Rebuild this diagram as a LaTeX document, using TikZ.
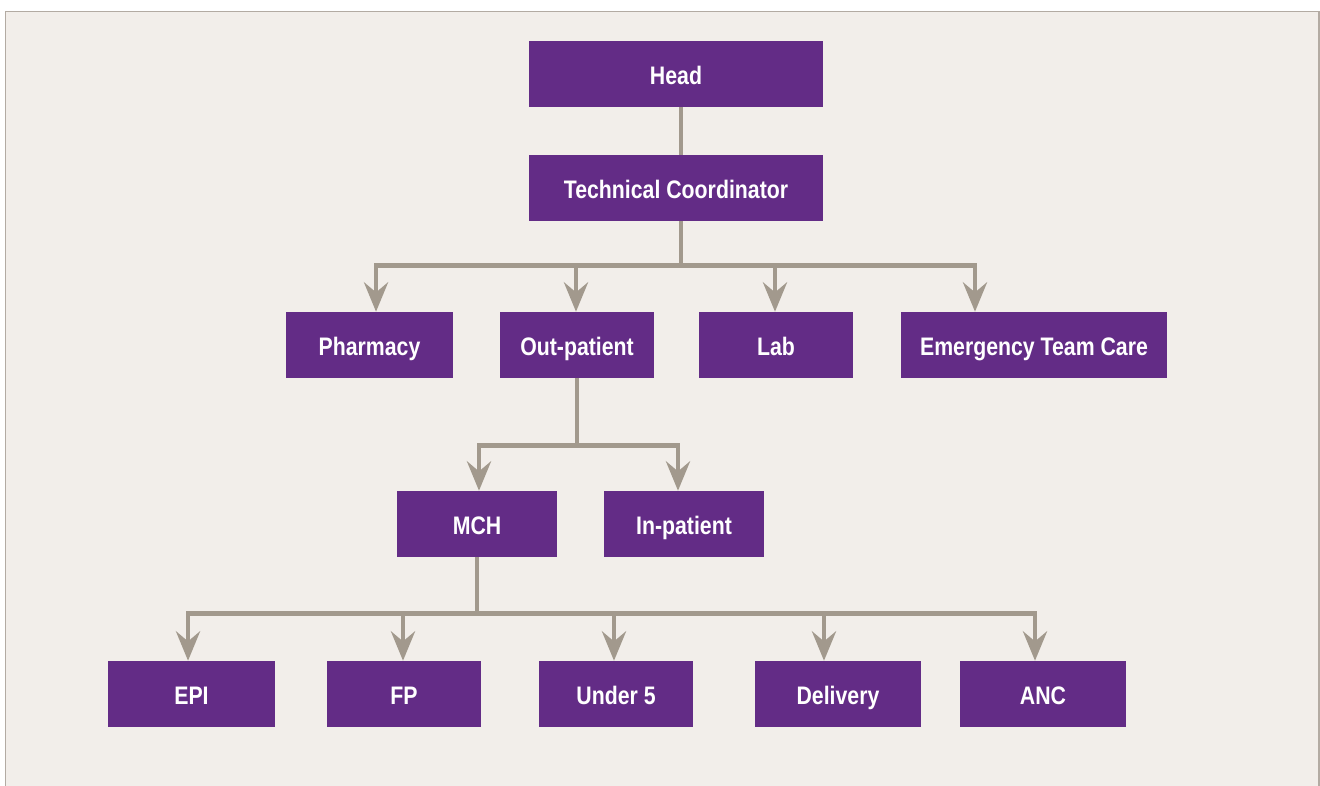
\documentclass[tikz,border=0pt]{standalone}
\usepackage{xcolor}
\usepackage{fontspec}
\setmainfont{Liberation Sans}[FakeStretch=0.84]
\usepackage{tikz}
\usetikzlibrary{arrows.meta,positioning,calc}

\definecolor{boxpurple}{HTML}{632C86}
\definecolor{linkgray}{HTML}{A2998D}
\definecolor{panel}{HTML}{F2EEEA}
\definecolor{panelline}{HTML}{B3ABA3}

\begin{document}
\begin{tikzpicture}[x=0.75pt, y=-0.75pt,
    unit/.style={rectangle, fill=boxpurple, text=white, inner sep=0pt,
        minimum height=49.5pt, text height=15pt, text depth=0pt,
        font=\fontsize{19}{22}\selectfont\bfseries},
    link/.style={draw=linkgray, line width=3.6pt},
    arr/.style={link, -{Stealth[length=22pt, width=18pt, inset=7.5pt]}}]
    \useasboundingbox (0,0) rectangle (1320,785);
    \draw[panelline, fill=panel, line width=1.2pt] (5.5,11.5) rectangle (1319,800);

    % top of the chart
    \node (head) [unit, minimum width=220.5pt] at (676,74) {Head};
    \node (tech) [unit, minimum width=220.5pt] at (676,188) {Technical Coordinator};

    % departments
    \node (pharm) [unit, minimum width=125.25pt] at (369.5,345) {Pharmacy};
    \node (outpat) [unit, minimum width=115.5pt] at (577,345) {Out-patient};
    \node (lab) [unit, minimum width=115.5pt] at (776,345) {Lab};
    \node (emerg) [unit, minimum width=199.5pt] at (1034,345) {Emergency Team Care};

    \node (mch) [unit, minimum width=120pt] at (477,524) {MCH};
    \node (inpat) [unit, minimum width=120pt] at (684,524) {In-patient};

    % MCH services
    \node (epi) [unit, minimum width=125.25pt] at (191.5,694) {EPI};
    \node (fp) [unit, minimum width=115.5pt] at (404,694) {FP};
    \node (under) [unit, minimum width=115.5pt] at (616,694) {Under 5};
    \node (deliv) [unit, minimum width=124.5pt] at (838,694) {Delivery};
    \node (anc) [unit, minimum width=124.5pt] at (1043,694) {ANC};

    \draw [link] ([xshift=3.75pt]head.south) -- ([xshift=3.75pt]tech.north);

    \coordinate (bus1) at ($([xshift=3.75pt]tech.south)+(0,44)$);
    \draw [link] ([xshift=3.75pt]tech.south) -- (bus1);
    \draw [arr] (bus1) -| ([xshift=4.9pt]pharm.north);
    \draw [arr] (bus1) -| ([xshift=-0.75pt]outpat.north);
    \draw [arr] (bus1) -| ([xshift=-0.75pt]lab.north);
    \draw [arr] (bus1) -| ([xshift=-44.25pt]emerg.north);

    \coordinate (bus2) at ($(outpat.south)+(0,67)$);
    \draw [link] (outpat.south) -- (bus2);
    \draw [arr] (bus2) -| ([xshift=1.5pt]mch.north);
    \draw [arr] (bus2) -| ([xshift=-4.5pt]inpat.north);

    \coordinate (bus3) at ($(mch.south)+(0,56)$);
    \draw [link] (mch.south) -- (bus3);
    \draw [arr] (bus3) -| ([xshift=-2.6pt]epi.north);
    \draw [arr] (bus3) -| ([xshift=-0.75pt]fp.north);
    \draw [arr] (bus3) -| ([xshift=-1.5pt]under.north);
    \draw [arr] (bus3) -| ([xshift=-10.5pt]deliv.north);
    \draw [arr] (bus3) -| ([xshift=-6pt]anc.north);
\end{tikzpicture}
\end{document}
